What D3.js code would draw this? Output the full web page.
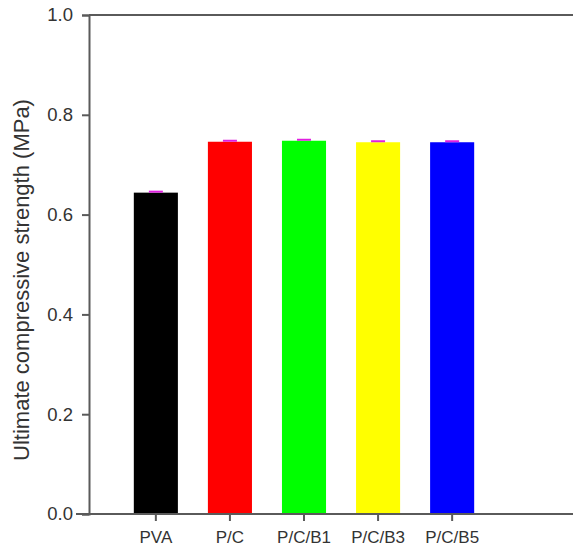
<!DOCTYPE html>
<html>
<head>
<meta charset="utf-8">
<script src="https://cdn.jsdelivr.net/npm/d3@7"></script>
<style>
	body { margin: 0; background: #fff; }
	svg { display: block; font-family: Arial, "Liberation Sans", sans-serif; }
	.axis path, .axis line { stroke: #5a5a5a; stroke-width: 2px; }
	.axis text { fill: #333; }
</style>
</head>
<body>
<svg id="chart"></svg>
<script>
const categories = ['PVA', 'P/C', 'P/C/B1', 'P/C/B3', 'P/C/B5'];
const values = [0.644, 0.746, 0.748, 0.745, 0.745];
const errors = [0.002, 0.002, 0.002, 0.002, 0.002];
const colors = ['#000000', '#ff0000', '#00ff00', '#ffff00', '#0000ff'];
const yTicks = [0, 0.2, 0.4, 0.6, 0.8, 1.0];

function draw () {
	const width = 573, height = 555;
	const svg = d3.select('#chart').attr('width', width).attr('height', height);

	// plot frame
	const left = 89, right = 573, top = 15, bottom = 514;

	const x = d3.scaleBand()
		.domain(categories)
		.range([119, 489])
		.paddingInner(0.405)
		.paddingOuter(0.2);
	const y = d3.scaleLinear().domain([0, 1]).range([bottom, top]);

	// bars
	svg.selectAll('rect.bar')
		.data(categories)
		.join('rect')
		.attr('class', 'bar')
		.attr('x', d => x(d))
		.attr('width', x.bandwidth())
		.attr('y', (d, i) => y(values[i]))
		.attr('height', (d, i) => y(0) - y(values[i]))
		.attr('fill', (d, i) => colors[i]);

	// error caps
	svg.selectAll('line.err')
		.data(categories)
		.join('line')
		.attr('class', 'err')
		.attr('x1', d => x(d) + x.bandwidth() / 2 - 7)
		.attr('x2', d => x(d) + x.bandwidth() / 2 + 7)
		.attr('y1', (d, i) => y(values[i] + errors[i]))
		.attr('y2', (d, i) => y(values[i] + errors[i]))
		.attr('stroke', '#e020e0')
		.attr('stroke-width', 2);

	// top frame line
	svg.append('line')
		.attr('x1', left).attr('x2', right)
		.attr('y1', top).attr('y2', top)
		.attr('stroke', '#5a5a5a').attr('stroke-width', 2);

	// y axis
	const yAxis = svg.append('g')
		.attr('class', 'axis')
		.attr('transform', `translate(${left},0)`)
		.call(d3.axisLeft(y).tickValues(yTicks).tickFormat(d3.format('.1f')).tickSizeOuter(0).tickSize(7).tickPadding(9));
	yAxis.selectAll('text').style('font-size', '18.5px');

	// x axis
	const xAxis = svg.append('g')
		.attr('class', 'axis')
		.attr('transform', `translate(0,${bottom})`)
		.call(d3.axisBottom(x).tickSizeOuter(0).tickSize(7).tickPadding(10));
	xAxis.select('.domain').attr('d', `M76,0H${right}`);
	xAxis.selectAll('text').style('font-size', '17px');

	// y title
	svg.append('text')
		.attr('transform', `translate(29,280)rotate(-90)`)
		.attr('text-anchor', 'middle')
		.style('font-size', '22px')
		.attr('fill', '#333')
		.text('Ultimate compressive strength (MPa)');
}

if (document.readyState === 'loading') {
	document.addEventListener('DOMContentLoaded', draw);
} else {
	draw();
}
</script>
</body>
</html>
